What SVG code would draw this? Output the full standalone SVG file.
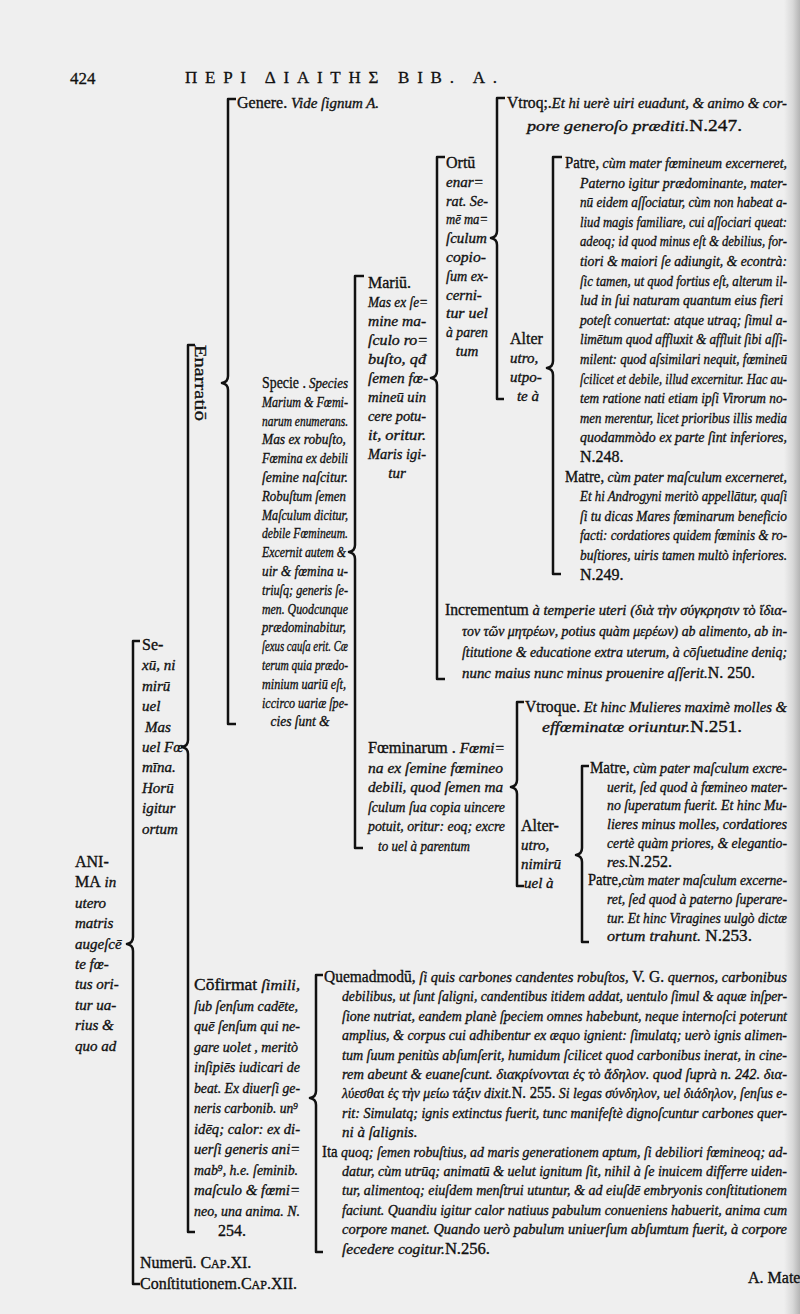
<svg xmlns="http://www.w3.org/2000/svg" width="800" height="1314" viewBox="0 0 800 1314">
<defs>
<linearGradient id="edge" x1="0" y1="0" x2="1" y2="0">
<stop offset="0" stop-color="#efefef"/>
<stop offset="0.55" stop-color="#d8d8d8"/>
<stop offset="1" stop-color="#b4b4b4"/>
</linearGradient>
<style>
.t{font-family:"Liberation Serif","DejaVu Serif",serif;font-size:15px;font-style:italic;fill:#111;stroke:#111;stroke-width:0.35}
.r{font-style:normal;font-size:16px}
.h{font-family:"Liberation Serif","DejaVu Serif",serif;font-size:17px;fill:#111;stroke:#111;stroke-width:0.3}
.br{fill:none;stroke:#111;stroke-width:2.5;stroke-linejoin:round}
</style>
</defs>
<rect width="800" height="1314" fill="#efefef"/>
<rect x="784" width="16" height="1314" fill="url(#edge)"/>

<g id="header">
<text class="h" x="70" y="84" font-size="19">424</text>
<text class="h" x="185" y="83" textLength="312" lengthAdjust="spacing">ΠΕΡΙ ΔΙΑΙΤΗΣ ΒΙΒ. Α.</text>
</g>

<g id="connectors">
<path class="br" d="M140,641 H133 V937 Q133,943 127,944 Q133,945 133,951 V1284 H140"/>
<path class="br" d="M195,345 H188 V740 Q188,746 182,747 Q188,748 188,754 V1232 H195"/>
<path class="br" d="M236,99 H228 V376 Q228,382 222,383 Q228,384 228,390 V724 H236"/>
<path class="br" d="M364,276 H355 V545 Q355,551 349,552 Q355,553 355,559 V848 H363"/>
<path class="br" d="M445,157 H437 V371 Q437,377 431,378 Q437,379 437,385 V679 H445"/>
<path class="br" d="M505,98 H497 V231 Q497,237 491,238 Q497,239 497,245 V399 H504"/>
<path class="br" d="M562,157 H553 V361 Q553,367 547,368 Q553,369 553,375 V574 H561"/>
<path class="br" d="M524,702 H517 V780 Q517,786 511,787 Q517,788 517,794 V886 H524"/>
<path class="br" d="M589,766 H582 V848 Q582,854 576,855 Q582,856 582,862 V942 H589"/>
<path class="br" d="M323,975 H316 V1091 Q316,1097 310,1098 Q316,1099 316,1105 V1252 H323"/>
</g>

<g id="anima" class="t">
<text x="75" y="867"><tspan class="r" font-size="17">A</tspan><tspan class="r" font-size="12">NI-</tspan></text>
<text x="75" y="887.4"><tspan class="r" font-size="12">MA</tspan> in</text>
<text x="75" y="907.8">utero</text>
<text x="75" y="928.2">matris</text>
<text x="75" y="948.6">augeſcē</text>
<text x="75" y="969">te  fœ-</text>
<text x="75" y="989.4">tus ori-</text>
<text x="75" y="1009.8">tur ua-</text>
<text x="75" y="1030.2">rius &amp;</text>
<text x="75" y="1050.6">quo ad</text>
</g>

<g id="sexu" class="t">
<text x="142" y="650"><tspan class="r">Se-</tspan></text>
<text x="142" y="670.4">xū, ni</text>
<text x="142" y="690.8">mirū</text>
<text x="142" y="711.2">uel</text>
<text x="145" y="731.6">Mas</text>
<text x="142" y="752">uel Fœ</text>
<text x="142" y="772.4">mīna.</text>
<text x="142" y="792.8">Horū</text>
<text x="142" y="813.2">igitur</text>
<text x="142" y="833.6">ortum</text>
</g>

<g id="enarratio">
<text class="t r" transform="translate(195,345) rotate(90)" textLength="76" lengthAdjust="spacingAndGlyphs">Enarratiō</text>
</g>

<g id="genere" class="t">
<text x="237" y="108"><tspan class="r">Genere.</tspan> Vide ſignum A.</text>
</g>

<g id="specie" class="t">
<text transform="translate(262,388) scale(0.82,1)" textLength="104.9" lengthAdjust="spacingAndGlyphs"><tspan class="r">Specie .</tspan> Species</text>
<text transform="translate(262,406.8) scale(0.82,1)" textLength="104.9" lengthAdjust="spacingAndGlyphs">Marium &amp; Fœmi-</text>
<text transform="translate(262,425.6) scale(0.82,1)" textLength="104.9" lengthAdjust="spacingAndGlyphs">narum enumerans.</text>
<text transform="translate(262,444.4) scale(0.82,1)" textLength="102.4" lengthAdjust="spacingAndGlyphs">Mas ex robuſto,</text>
<text transform="translate(262,463.2) scale(0.82,1)" textLength="104.9" lengthAdjust="spacingAndGlyphs">Fœmina ex debili</text>
<text transform="translate(262,482) scale(0.82,1)" textLength="104.9" lengthAdjust="spacingAndGlyphs">ſemine naſcitur.</text>
<text transform="translate(262,500.8) scale(0.82,1)" textLength="102.4" lengthAdjust="spacingAndGlyphs">Robuſtum ſemen</text>
<text transform="translate(262,519.6) scale(0.82,1)" textLength="104.9" lengthAdjust="spacingAndGlyphs">Maſculum dicitur,</text>
<text transform="translate(262,538.4) scale(0.82,1)" textLength="104.9" lengthAdjust="spacingAndGlyphs">debile Fœmineum.</text>
<text transform="translate(262,557.2) scale(0.82,1)" textLength="102.4" lengthAdjust="spacingAndGlyphs">Excernit autem &amp;</text>
<text transform="translate(262,576) scale(0.82,1)" textLength="104.9" lengthAdjust="spacingAndGlyphs">uir &amp; fœmina u-</text>
<text transform="translate(262,594.8) scale(0.82,1)" textLength="104.9" lengthAdjust="spacingAndGlyphs">triuſq; generis ſe-</text>
<text transform="translate(262,613.6) scale(0.82,1)" textLength="104.9" lengthAdjust="spacingAndGlyphs">men. Quodcunque</text>
<text transform="translate(262,632.4) scale(0.82,1)" textLength="102.4" lengthAdjust="spacingAndGlyphs">prædominabitur,</text>
<text transform="translate(262,651.2) scale(0.82,1)" textLength="104.9" lengthAdjust="spacingAndGlyphs">ſexus cauſa erit. Cæ</text>
<text transform="translate(262,670) scale(0.82,1)" textLength="104.9" lengthAdjust="spacingAndGlyphs">terum quia prædo-</text>
<text transform="translate(262,688.8) scale(0.82,1)" textLength="102.4" lengthAdjust="spacingAndGlyphs">minium uariū eſt,</text>
<text transform="translate(262,707.6) scale(0.82,1)" textLength="104.9" lengthAdjust="spacingAndGlyphs">iccirco uariæ ſpe-</text>
<text transform="translate(300,726.4) scale(0.9,1)" text-anchor="middle">cies ſunt &amp;</text>
</g>

<g id="mariu" class="t">
<text x="368" y="288"><tspan class="r">Mariū.</tspan></text>
<text transform="translate(368,307) scale(0.95,1)" textLength="63.2" lengthAdjust="spacingAndGlyphs">Mas ex ſe=</text>
<text transform="translate(368,326) scale(0.95,1)" textLength="61.1" lengthAdjust="spacingAndGlyphs">mine ma-</text>
<text transform="translate(368,345) scale(0.95,1)" textLength="63.2" lengthAdjust="spacingAndGlyphs">ſculo ro=</text>
<text transform="translate(368,364) scale(0.95,1)" textLength="61.1" lengthAdjust="spacingAndGlyphs">buſto, qđ</text>
<text transform="translate(368,383) scale(0.95,1)" textLength="63.2" lengthAdjust="spacingAndGlyphs">ſemen fœ-</text>
<text transform="translate(368,402) scale(0.95,1)" textLength="61.1" lengthAdjust="spacingAndGlyphs">mineū uin</text>
<text transform="translate(368,421) scale(0.95,1)" textLength="61.1" lengthAdjust="spacingAndGlyphs">cere potu-</text>
<text transform="translate(368,440) scale(0.95,1)" textLength="61.1" lengthAdjust="spacingAndGlyphs">it, oritur.</text>
<text transform="translate(368,459) scale(0.95,1)" textLength="61.1" lengthAdjust="spacingAndGlyphs">Maris igi-</text>
<text x="397" y="478" text-anchor="middle">tur</text>
</g>

<g id="ortu" class="t">
<text x="446" y="168"><tspan class="r">Ortū</tspan></text>
<text x="446" y="186.8">enar=</text>
<text transform="translate(446,205.6) scale(0.95,1)" textLength="44.2" lengthAdjust="spacingAndGlyphs">rat. Se-</text>
<text transform="translate(446,224.4) scale(0.95,1)" textLength="44.2" lengthAdjust="spacingAndGlyphs">mē ma=</text>
<text x="446" y="243.2">ſculum</text>
<text transform="translate(446,262) scale(0.95,1)" textLength="42.1" lengthAdjust="spacingAndGlyphs">copio-</text>
<text transform="translate(446,280.8) scale(0.95,1)" textLength="44.2" lengthAdjust="spacingAndGlyphs">ſum ex-</text>
<text x="446" y="299.6">cerni-</text>
<text transform="translate(446,318.4) scale(0.95,1)" textLength="44.2" lengthAdjust="spacingAndGlyphs">tur uel</text>
<text transform="translate(446,337.2) scale(0.95,1)" textLength="44.2" lengthAdjust="spacingAndGlyphs">à paren</text>
<text x="467" y="356" text-anchor="middle">tum</text>
</g>

<g id="utroq1" class="t">
<text transform="translate(507,108) scale(0.95,1)" textLength="294.7" lengthAdjust="spacingAndGlyphs"><tspan class="r">Vtroq;.</tspan>Et hi uerè uiri euadunt, &amp; animo &amp; cor-</text>
<text transform="translate(527,131) scale(0.95,1)" textLength="226.3" lengthAdjust="spacingAndGlyphs">pore generoſo præditi.<tspan class="r">N.247.</tspan></text>
</g>

<g id="alter1" class="t">
<text x="510" y="344"><tspan class="r">Alter</tspan></text>
<text x="510" y="363">utro,</text>
<text x="510" y="382">utpo-</text>
<text x="528" y="401" text-anchor="middle">te à</text>
</g>

<g id="patre1" class="t">
<text transform="translate(565,168) scale(0.86,1)" textLength="258.1" lengthAdjust="spacingAndGlyphs"><tspan class="r">Patre,</tspan> cùm mater fœmineum excerneret,</text>
<text transform="translate(580,187.6) scale(0.86,1)" textLength="240.7" lengthAdjust="spacingAndGlyphs">Paterno igitur prædominante, mater-</text>
<text transform="translate(580,207.2) scale(0.86,1)" textLength="240.7" lengthAdjust="spacingAndGlyphs">nū eidem aſſociatur, cùm non habeat a-</text>
<text transform="translate(580,226.8) scale(0.86,1)" textLength="240.7" lengthAdjust="spacingAndGlyphs">liud magis familiare, cui aſſociari queat:</text>
<text transform="translate(580,246.4) scale(0.86,1)" textLength="240.7" lengthAdjust="spacingAndGlyphs">adeoq; id quod minus eſt &amp; debilius, for-</text>
<text transform="translate(580,266) scale(0.86,1)" textLength="240.7" lengthAdjust="spacingAndGlyphs">tiori &amp; maiori ſe adiungit, &amp; econtrà:</text>
<text transform="translate(580,285.6) scale(0.86,1)" textLength="240.7" lengthAdjust="spacingAndGlyphs">ſic tamen, ut quod fortius eſt, alterum il-</text>
<text transform="translate(580,305.2) scale(0.86,1)" textLength="236" lengthAdjust="spacingAndGlyphs">lud in  ſui naturam quantum eius fieri</text>
<text transform="translate(580,324.8) scale(0.86,1)" textLength="240.7" lengthAdjust="spacingAndGlyphs">poteſt conuertat: atque utraq; ſimul a-</text>
<text transform="translate(580,344.4) scale(0.86,1)" textLength="240.7" lengthAdjust="spacingAndGlyphs">limētum quod affluxit &amp; affluit ſibi aſſi-</text>
<text transform="translate(580,364) scale(0.86,1)" textLength="240.7" lengthAdjust="spacingAndGlyphs">milent: quod aſsimilari nequit, fœmineū</text>
<text transform="translate(580,383.6) scale(0.86,1)" textLength="240.7" lengthAdjust="spacingAndGlyphs">ſcilicet et debile, illud excernitur. Hac au-</text>
<text transform="translate(580,403.2) scale(0.86,1)" textLength="240.7" lengthAdjust="spacingAndGlyphs">tem ratione nati etiam ipſi Virorum no-</text>
<text transform="translate(580,422.8) scale(0.86,1)" textLength="240.7" lengthAdjust="spacingAndGlyphs">men merentur, licet prioribus illis media</text>
<text transform="translate(580,442.4) scale(0.86,1)" textLength="240.7" lengthAdjust="spacingAndGlyphs">quodammòdo ex parte ſint inferiores,</text>
<text x="580" y="462"><tspan class="r">N.248.</tspan></text>
<text transform="translate(565,481.6) scale(0.86,1)" textLength="258.1" lengthAdjust="spacingAndGlyphs"><tspan class="r">Matre,</tspan> cùm pater maſculum excerneret,</text>
<text transform="translate(580,501.2) scale(0.86,1)" textLength="240.7" lengthAdjust="spacingAndGlyphs">Et hi Androgyni meritò appellātur, quaſi</text>
<text transform="translate(580,520.8) scale(0.86,1)" textLength="240.7" lengthAdjust="spacingAndGlyphs">ſi tu dicas Mares fœminarum beneficio</text>
<text transform="translate(580,540.4) scale(0.86,1)" textLength="240.7" lengthAdjust="spacingAndGlyphs">facti: cordatiores quidem fœminis &amp; ro-</text>
<text transform="translate(580,560) scale(0.86,1)" textLength="240.7" lengthAdjust="spacingAndGlyphs">buſtiores, uiris tamen multò inferiores.</text>
<text x="580" y="579.6"><tspan class="r">N.249.</tspan></text>
</g>

<g id="incrementum" class="t">
<text transform="translate(445,615) scale(0.93,1)" textLength="367.7" lengthAdjust="spacingAndGlyphs"><tspan class="r">Incrementum</tspan> à temperie uteri (διὰ τὴν σύγκρησιν τὸ ἴδια-</text>
<text transform="translate(462,636) scale(0.93,1)" textLength="349.5" lengthAdjust="spacingAndGlyphs">τον τῶν μητρέων, potius quàm μερέων) ab alimento, ab in-</text>
<text transform="translate(462,657) scale(0.93,1)" textLength="349.5" lengthAdjust="spacingAndGlyphs">ſtitutione &amp; educatione extra uterum, à cōſuetudine deniq;</text>
<text transform="translate(462,678) scale(0.93,1)" textLength="315.1" lengthAdjust="spacingAndGlyphs">nunc maius nunc minus prouenire aſſerit.<tspan class="r">N. 250.</tspan></text>
</g>

<g id="foeminarum" class="t">
<text transform="translate(368,753) scale(0.97,1)" textLength="141.2" lengthAdjust="spacingAndGlyphs"><tspan class="r">Fœminarum .</tspan> Fœmi=</text>
<text transform="translate(368,772.5) scale(0.97,1)" textLength="139.2" lengthAdjust="spacingAndGlyphs">na  ex ſemine fœmineo</text>
<text transform="translate(368,792) scale(0.97,1)" textLength="139.2" lengthAdjust="spacingAndGlyphs">debili, quod ſemen ma</text>
<text transform="translate(368,811.5) scale(0.97,1)" textLength="141.2" lengthAdjust="spacingAndGlyphs">ſculum ſua copia uincere</text>
<text transform="translate(368,831) scale(0.97,1)" textLength="141.2" lengthAdjust="spacingAndGlyphs">potuit, oritur: eoq; excre</text>
<text transform="translate(378,850.5) scale(0.97,1)" textLength="94.8" lengthAdjust="spacingAndGlyphs">to uel à parentum</text>
</g>

<g id="utroque2" class="t">
<text transform="translate(525,712) scale(0.95,1)" textLength="275.8" lengthAdjust="spacingAndGlyphs"><tspan class="r">Vtroque.</tspan> Et hinc Mulieres maximè molles &amp;</text>
<text transform="translate(542,732) scale(0.95,1)" textLength="210.5" lengthAdjust="spacingAndGlyphs">effœminatæ oriuntur.<tspan class="r">N.251.</tspan></text>
</g>

<g id="alter2" class="t">
<text x="521" y="831"><tspan class="r">Alter-</tspan></text>
<text x="521" y="850">utro,</text>
<text x="521" y="869">nimirū</text>
<text x="524" y="888">uel à</text>
</g>

<g id="matre2" class="t">
<text transform="translate(590,773) scale(0.88,1)" textLength="223.9" lengthAdjust="spacingAndGlyphs"><tspan class="r">Matre,</tspan> cùm pater maſculum excre-</text>
<text transform="translate(607,791.7) scale(0.88,1)" textLength="204.5" lengthAdjust="spacingAndGlyphs">uerit, ſed quod à fœmineo mater-</text>
<text transform="translate(607,810.4) scale(0.88,1)" textLength="204.5" lengthAdjust="spacingAndGlyphs">no ſuperatum fuerit. Et hinc Mu-</text>
<text transform="translate(607,829.1) scale(0.88,1)" textLength="204.5" lengthAdjust="spacingAndGlyphs">lieres  minus molles, cordatiores</text>
<text transform="translate(607,847.8) scale(0.88,1)" textLength="204.5" lengthAdjust="spacingAndGlyphs">certè quàm priores, &amp; elegantio-</text>
<text x="607" y="866.5">res.<tspan class="r">N.252.</tspan></text>
<text transform="translate(588,885.2) scale(0.88,1)" textLength="226.1" lengthAdjust="spacingAndGlyphs"><tspan class="r">Patre,</tspan>cùm mater maſculum excerne-</text>
<text transform="translate(607,903.9) scale(0.88,1)" textLength="204.5" lengthAdjust="spacingAndGlyphs">ret, ſed quod à  paterno ſuperare-</text>
<text transform="translate(607,922.6) scale(0.88,1)" textLength="204.5" lengthAdjust="spacingAndGlyphs">tur. Et hinc Viragines uulgò dictæ</text>
<text transform="translate(607,941.3) scale(0.88,1)" textLength="164.8" lengthAdjust="spacingAndGlyphs">ortum trahunt.<tspan class="r"> N.253.</tspan></text>
</g>

<g id="confirmat" class="t">
<text transform="translate(194,990) scale(0.9,1)" textLength="117.8" lengthAdjust="spacingAndGlyphs"><tspan class="r">Cōfirmat</tspan> ſimili,</text>
<text transform="translate(194,1010.5) scale(0.9,1)" textLength="115.6" lengthAdjust="spacingAndGlyphs">ſub ſenſum  cadēte,</text>
<text transform="translate(194,1031) scale(0.9,1)" textLength="117.8" lengthAdjust="spacingAndGlyphs">quē ſenſum  qui ne-</text>
<text transform="translate(194,1051.5) scale(0.9,1)" textLength="115.6" lengthAdjust="spacingAndGlyphs">gare uolet , meritò</text>
<text transform="translate(194,1072) scale(0.9,1)" textLength="117.8" lengthAdjust="spacingAndGlyphs">inſipiēs iudicari de</text>
<text transform="translate(194,1092.5) scale(0.9,1)" textLength="117.8" lengthAdjust="spacingAndGlyphs">beat. Ex diuerſi ge-</text>
<text transform="translate(194,1113) scale(0.9,1)" textLength="115.6" lengthAdjust="spacingAndGlyphs">neris carbonib. un⁹</text>
<text transform="translate(194,1133.5) scale(0.9,1)" textLength="117.8" lengthAdjust="spacingAndGlyphs">idēq; calor: ex di-</text>
<text transform="translate(194,1154) scale(0.9,1)" textLength="117.8" lengthAdjust="spacingAndGlyphs">uerſi generis  ani=</text>
<text transform="translate(194,1174.5) scale(0.9,1)" textLength="115.6" lengthAdjust="spacingAndGlyphs">mab⁹, h.e. ſeminib.</text>
<text transform="translate(194,1195) scale(0.9,1)" textLength="117.8" lengthAdjust="spacingAndGlyphs">maſculo &amp; fœmi=</text>
<text transform="translate(194,1215.5) scale(0.9,1)" textLength="117.8" lengthAdjust="spacingAndGlyphs">neo, una anima. N.</text>
<text x="232" y="1236" text-anchor="middle"><tspan class="r">254.</tspan></text>
</g>

<g id="quemadmodum" class="t">
<text transform="translate(324,982) scale(0.87,1)" textLength="532.2" lengthAdjust="spacingAndGlyphs"><tspan class="r">Quemadmodū,</tspan> ſi quis carbones candentes robuſtos, <tspan class="r">V. G.</tspan> quernos, carbonibus</text>
<text transform="translate(342,1001.4) scale(0.87,1)" textLength="511.5" lengthAdjust="spacingAndGlyphs">debilibus, ut ſunt ſaligni, candentibus itidem addat, uentulo ſimul &amp; aquæ inſper-</text>
<text transform="translate(342,1020.8) scale(0.87,1)" textLength="511.5" lengthAdjust="spacingAndGlyphs">ſione nutriat, eandem planè ſpeciem omnes habebunt, neque internoſci poterunt</text>
<text transform="translate(342,1040.2) scale(0.87,1)" textLength="511.5" lengthAdjust="spacingAndGlyphs">amplius, &amp; corpus cui adhibentur ex æquo ignient: ſimulatq; uerò ignis alimen-</text>
<text transform="translate(342,1059.6) scale(0.87,1)" textLength="511.5" lengthAdjust="spacingAndGlyphs">tum ſuum penitùs abſumſerit, humidum ſcilicet quod carbonibus inerat, in cine-</text>
<text transform="translate(342,1079) scale(0.87,1)" textLength="511.5" lengthAdjust="spacingAndGlyphs">rem abeunt &amp; euaneſcunt. διακρίνονται ἐς τὸ ἄδηλον. quod ſuprà n. 242. δια-</text>
<text transform="translate(342,1098.4) scale(0.87,1)" textLength="511.5" lengthAdjust="spacingAndGlyphs">λύεσθαι ἐς τὴν μείω τάξιν dixit.<tspan class="r">N. 255.</tspan> Si legas σύνδηλον, uel διάδηλον, ſenſus e-</text>
<text transform="translate(342,1117.8) scale(0.87,1)" textLength="511.5" lengthAdjust="spacingAndGlyphs">rit: Simulatq; ignis extinctus fuerit, tunc manifeſtè dignoſcuntur carbones quer-</text>
<text x="342" y="1137.2">ni à ſalignis.</text>
<text transform="translate(322,1156.6) scale(0.87,1)" textLength="534.5" lengthAdjust="spacingAndGlyphs"><tspan class="r">Ita</tspan> quoq; ſemen robuſtius, ad maris generationem aptum, ſi debiliori fœmineoq; ad-</text>
<text transform="translate(342,1176) scale(0.87,1)" textLength="511.5" lengthAdjust="spacingAndGlyphs">datur, cùm utrūq; animatū &amp; uelut ignitum ſit, nihil à ſe inuicem differre uiden-</text>
<text transform="translate(342,1195.4) scale(0.87,1)" textLength="511.5" lengthAdjust="spacingAndGlyphs">tur, alimentoq; eiuſdem menſtrui utuntur, &amp; ad eiuſdē embryonis conſtitutionem</text>
<text transform="translate(342,1214.8) scale(0.87,1)" textLength="511.5" lengthAdjust="spacingAndGlyphs">faciunt. Quandiu igitur calor natiuus pabulum conueniens habuerit, anima cum</text>
<text transform="translate(342,1234.2) scale(0.87,1)" textLength="511.5" lengthAdjust="spacingAndGlyphs">corpore manet. Quando uerò pabulum uniuerſum abſumtum fuerit, à corpore</text>
<text transform="translate(342,1253.6) scale(0.87,1)" textLength="170.1" lengthAdjust="spacingAndGlyphs">ſecedere cogitur.<tspan class="r">N.256.</tspan></text>
</g>

<g id="numerum" class="t">
<text x="140" y="1268"><tspan class="r">Numerū. C<tspan font-size="12">AP</tspan>.XI.</tspan></text>
</g>
<g id="constitutionem" class="t">
<text x="140" y="1289"><tspan class="r">Conſtitutionem.C<tspan font-size="12">AP</tspan>.XII.</tspan></text>
</g>

<g id="catchword" class="t">
<text x="748" y="1283"><tspan class="r" font-size="14">A. Mate</tspan></text>
</g>
</svg>
